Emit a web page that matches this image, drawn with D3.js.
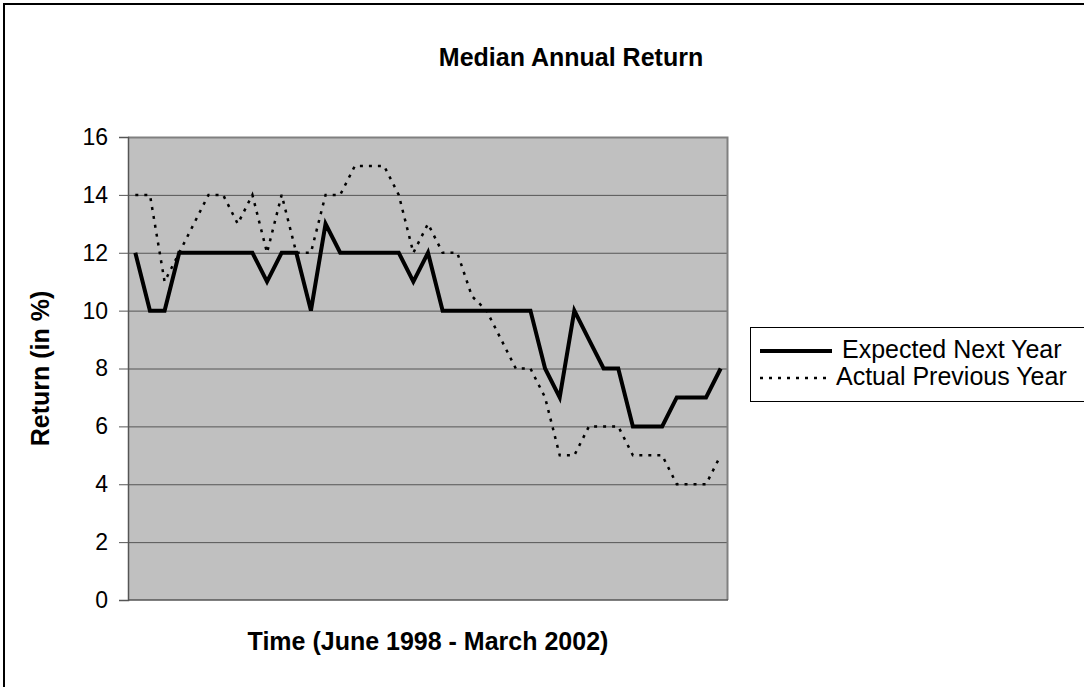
<!DOCTYPE html>
<html>
<head>
<meta charset="utf-8">
<script src="https://cdn.jsdelivr.net/npm/d3@7"></script>
<style>
  body { margin: 0; background: #fff; }
  text { font-family: "Liberation Sans", Arial, sans-serif; }
</style>
</head>
<body>
<div id="chart"></div>
<script>
// median annual return, one value per survey period (June 1998 - March 2002)
var expected = [12,10,10,12,12,12,12,12,12,11,12,12,10,13,12,12,12,12,12,11,12,
                10,10,10,10,10,10,10,8,7,10,9,8,8,6,6,6,7,7,7,8];
var actual = [14,14,11,12,13,14,14,13,14,12,14,12,12,14,14,15,15,15,14,12,13,
              12,12,10.5,10,9,8,8,7,5,5,6,6,6,5,5,5,4,4,4,5];
var yTicks = [0,2,4,6,8,10,12,14,16];
var seriesNames = ["Expected Next Year", "Actual Previous Year"];

var W = 1084, H = 687;
var margin = {top: 137, left: 128};
var width = 600, height = 463;

var svg = d3.select("#chart").append("svg")
  .attr("width", W)
  .attr("height", H);

// outer chart frame
svg.append("rect")
  .attr("x", 4).attr("y", 4)
  .attr("width", W + 10).attr("height", H + 10)
  .attr("fill", "#fff")
  .attr("stroke", "#000")
  .attr("stroke-width", 2);

svg.append("text")
  .attr("x", 571).attr("y", 66)
  .attr("text-anchor", "middle")
  .style("font-size", "25px")
  .style("font-weight", "bold")
  .text("Median Annual Return");

var g = svg.append("g")
  .attr("transform", "translate(" + margin.left + "," + margin.top + ")");

var x = d3.scalePoint()
  .domain(d3.range(expected.length))
  .range([0, width])
  .padding(0.5);

var y = d3.scaleLinear()
  .domain([0, 16])
  .range([height, 0]);

// plot area
g.append("rect")
  .attr("width", width).attr("height", height)
  .attr("fill", "#c0c0c0");

g.selectAll(".grid")
  .data(yTicks.filter(function(d){ return d > 0 && d < 16; }))
  .enter().append("line")
  .attr("class", "grid")
  .attr("x1", 0).attr("x2", width)
  .attr("y1", function(d){ return y(d) + 0.5; })
  .attr("y2", function(d){ return y(d) + 0.5; })
  .attr("stroke", "#555")
  .attr("stroke-width", 1);

// top and right border of plot area
g.append("path")
  .attr("d", "M0,0.5H" + (width - 0.5) + "V" + height)
  .attr("fill", "none")
  .attr("stroke", "#808080")
  .attr("stroke-width", 2);

var y_axis = d3.axisLeft(y)
  .tickValues(yTicks)
  .tickSize(9)
  .tickPadding(11);

var g_y = g.append("g").call(y_axis);
g_y.select(".domain").attr("stroke", "#555").attr("stroke-width", 1.5);
g_y.selectAll(".tick line").attr("stroke", "#555");
g_y.selectAll("text")
  .style("font-size", "23px")
  .attr("fill", "#000")
  .attr("font-family", "Liberation Sans, Arial, sans-serif");

g.append("line")
  .attr("x1", 0).attr("x2", width)
  .attr("y1", height).attr("y2", height)
  .attr("stroke", "#555")
  .attr("stroke-width", 1.5);

var line = d3.line()
  .x(function(d, i){ return x(i); })
  .y(function(d){ return y(d); });

g.append("path")
  .datum(actual)
  .attr("d", line)
  .attr("fill", "none")
  .attr("stroke", "#000")
  .attr("stroke-width", 2.5)
  .attr("stroke-dasharray", "3,6");

g.append("path")
  .datum(expected)
  .attr("d", line)
  .attr("fill", "none")
  .attr("stroke", "#000")
  .attr("stroke-width", 4)
  .attr("stroke-linejoin", "miter");

// axis titles
svg.append("text")
  .attr("x", margin.left + width / 2)
  .attr("y", 650)
  .attr("text-anchor", "middle")
  .style("font-size", "25px")
  .style("font-weight", "bold")
  .text("Time (June 1998 - March 2002)");

svg.append("text")
  .attr("transform", "translate(49," + (margin.top + height / 2) + ") rotate(-90)")
  .attr("text-anchor", "middle")
  .style("font-size", "25px")
  .style("font-weight", "bold")
  .text("Return (in %)");

// legend
var legend = svg.append("g").attr("transform", "translate(750,327)");
legend.append("rect")
  .attr("x", 0.5).attr("y", 0.5)
  .attr("width", 400).attr("height", 74)
  .attr("fill", "#fff")
  .attr("stroke", "#000")
  .attr("stroke-width", 1);

var rows = legend.selectAll(".row")
  .data(seriesNames)
  .enter().append("g")
  .attr("class", "row")
  .attr("transform", function(d, i){ return "translate(0," + (24 + i * 27) + ")"; });

rows.append("line")
  .attr("x1", 10).attr("x2", 82)
  .attr("y1", 0).attr("y2", 0)
  .attr("stroke", "#000")
  .attr("stroke-width", function(d, i){ return i == 0 ? 4 : 2.5; })
  .attr("stroke-dasharray", function(d, i){ return i == 0 ? null : "3,6"; });

rows.append("text")
  .attr("x", function(d, i){ return i == 0 ? 92 : 86; })
  .attr("y", 7)
  .style("font-size", "25px")
  .text(function(d){ return d; });
</script>
</body>
</html>
